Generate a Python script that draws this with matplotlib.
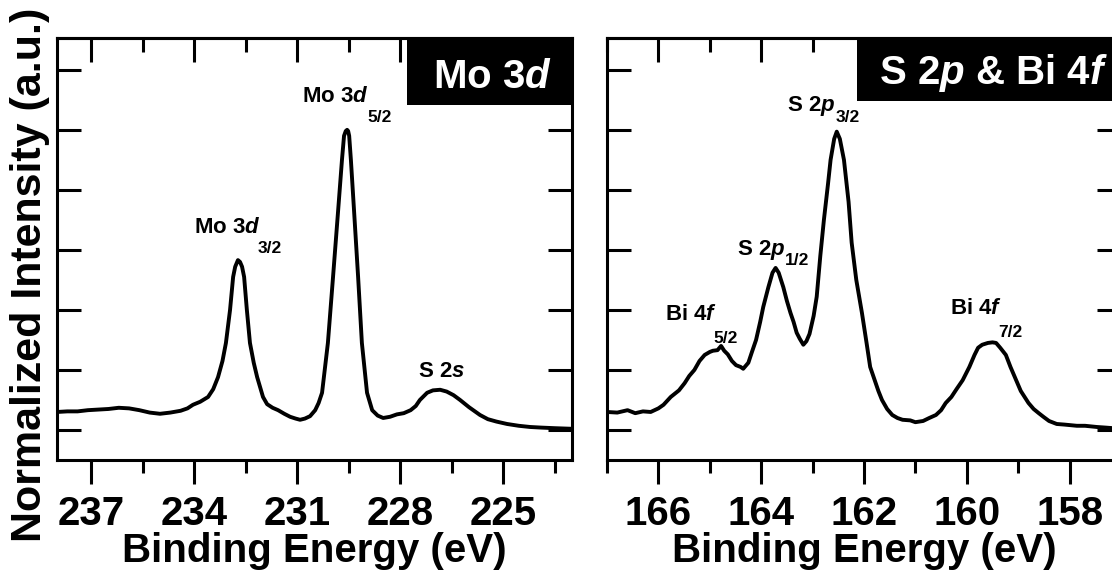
import matplotlib
matplotlib.use('Agg')
import matplotlib.pyplot as plt
from matplotlib.patches import Rectangle
from matplotlib.ticker import MultipleLocator

plt.rcParams['font.family'] = ['Liberation Sans', 'DejaVu Sans']
plt.rcParams['font.weight'] = 'bold'
plt.rcParams['mathtext.fontset'] = 'custom'
plt.rcParams['mathtext.rm'] = 'Liberation Sans:bold'
plt.rcParams['mathtext.it'] = 'Liberation Sans:bold:italic'
plt.rcParams['mathtext.bf'] = 'Liberation Sans:bold'

# Mo 3d region (binding energy in eV, normalized intensity)
mo_energy = [238.0, 237.7, 237.4, 237.1, 236.8, 236.5, 236.2, 235.9, 235.6, 235.3,
             235.0, 234.7, 234.4, 234.2, 234.04, 233.83, 233.6, 233.45, 233.31, 233.18,
             233.08, 232.96, 232.87, 232.81, 232.73, 232.67, 232.61, 232.55, 232.47, 232.38,
             232.27, 232.17, 232.0, 231.88, 231.72, 231.56, 231.38, 231.21, 231.05, 230.92,
             230.78, 230.63, 230.48, 230.38, 230.28, 230.11, 229.96, 229.81, 229.70, 229.64,
             229.59, 229.55, 229.52, 229.49, 229.44, 229.35, 229.23, 229.12, 228.97, 228.82,
             228.66, 228.50, 228.3, 228.1, 227.9, 227.7, 227.55, 227.43, 227.22, 227.05,
             226.84, 226.65, 226.45, 226.26, 226.0, 225.68, 225.45, 225.2, 224.89, 224.55,
             224.22, 223.9, 223.5, 223.0]
mo_intensity = [0.30, 0.31, 0.31, 0.33, 0.34, 0.35, 0.37, 0.36, 0.33, 0.29,
                0.27, 0.29, 0.32, 0.36, 0.42, 0.47, 0.55, 0.68, 0.88, 1.15,
                1.45, 2.00, 2.55, 2.72, 2.83, 2.80, 2.72, 2.55, 2.00, 1.45,
                1.12, 0.88, 0.55, 0.43, 0.37, 0.33, 0.27, 0.22, 0.19, 0.17,
                0.19, 0.23, 0.33, 0.45, 0.62, 1.45, 2.55, 3.67, 4.50, 4.90,
                4.98, 5.00, 4.98, 4.90, 4.50, 3.67, 2.55, 1.45, 0.62, 0.33,
                0.24, 0.20, 0.22, 0.26, 0.28, 0.33, 0.40, 0.50, 0.62, 0.66,
                0.67, 0.64, 0.58, 0.50, 0.38, 0.25, 0.18, 0.14, 0.10, 0.07,
                0.05, 0.04, 0.03, 0.02]

# S 2p & Bi 4f region
s_energy = [167.0, 166.8, 166.6, 166.45, 166.3, 166.15, 166.0, 165.9, 165.76, 165.6,
            165.49, 165.4, 165.3, 165.2, 165.1, 165.0, 164.94, 164.85, 164.78, 164.72,
            164.65, 164.57, 164.49, 164.4, 164.35, 164.25, 164.18, 164.1, 164.02, 163.96,
            163.86, 163.78, 163.72, 163.66, 163.57, 163.5, 163.43, 163.37, 163.31, 163.25,
            163.18, 163.12, 163.06, 162.98, 162.92, 162.85, 162.78, 162.7, 162.65, 162.58,
            162.53, 162.47, 162.39, 162.3, 162.24, 162.15, 162.04, 161.95, 161.88, 161.8,
            161.72, 161.65, 161.55, 161.45, 161.35, 161.25, 161.1, 161.0, 160.85, 160.73,
            160.6, 160.5, 160.41, 160.3, 160.2, 160.08, 159.95, 159.85, 159.78, 159.7,
            159.59, 159.5, 159.43, 159.35, 159.24, 159.15, 159.04, 158.95, 158.8, 158.7,
            158.6, 158.51, 158.4, 158.25, 158.1, 157.86, 157.7, 157.47, 157.3, 157.0]
s_intensity = [0.30, 0.29, 0.33, 0.28, 0.31, 0.30, 0.36, 0.42, 0.55, 0.66,
               0.78, 0.90, 1.00, 1.15, 1.25, 1.30, 1.32, 1.33, 1.40, 1.32,
               1.26, 1.15, 1.08, 1.05, 1.02, 1.12, 1.30, 1.50, 1.80, 2.05,
               2.38, 2.62, 2.70, 2.62, 2.38, 2.15, 1.95, 1.80, 1.62, 1.52,
               1.42, 1.48, 1.60, 1.90, 2.22, 2.90, 3.50, 4.10, 4.50, 4.85,
               4.97, 4.85, 4.50, 3.80, 3.12, 2.50, 1.95, 1.45, 1.05, 0.85,
               0.65, 0.50, 0.35, 0.25, 0.20, 0.17, 0.16, 0.13, 0.15, 0.20,
               0.25, 0.33, 0.45, 0.55, 0.68, 0.83, 1.05, 1.25, 1.37, 1.42,
               1.45, 1.46, 1.45, 1.37, 1.25, 1.05, 0.83, 0.65, 0.45, 0.35,
               0.28, 0.22, 0.15, 0.10, 0.09, 0.07, 0.07, 0.05, 0.04, 0.02]

fig = plt.figure(figsize=(11.12, 5.70), dpi=100)
ax1 = fig.add_axes([0.05126, 0.19298, 0.46313, 0.74035])
ax2 = fig.add_axes([0.54586, 0.19298, 0.46223, 0.74035])


def style_axis(ax, xlim, major, minor):
    ax.set_xlim(*xlim)
    ax.set_ylim(-0.5, 6.53)
    ax.xaxis.set_major_locator(MultipleLocator(major))
    ax.xaxis.set_minor_locator(MultipleLocator(minor))
    ax.yaxis.set_major_locator(MultipleLocator(1))
    for sp in ax.spines.values():
        sp.set_linewidth(2.2)
    ax.tick_params(axis='x', which='major', direction='out', length=17, width=2.2,
                   labelsize=29, pad=8)
    ax.tick_params(axis='x', which='minor', direction='out', length=9.5, width=2.2)
    ax.tick_params(axis='y', which='major', direction='in', length=17, width=2.2,
                   left=True, right=True, labelleft=False)
    for lab in ax.get_xticklabels():
        lab.set_fontweight('bold')
    # inward ticks along the top
    top = ax.secondary_xaxis('top')
    top.xaxis.set_major_locator(MultipleLocator(major))
    top.xaxis.set_minor_locator(MultipleLocator(minor))
    top.tick_params(axis='x', which='major', direction='in', length=17, width=2.2,
                    labeltop=False)
    top.tick_params(axis='x', which='minor', direction='in', length=10, width=2.2)
    top.spines['top'].set_linewidth(2.2)
    ax.text(0.5, -0.2417, 'Binding Energy (eV)', transform=ax.transAxes,
            ha='center', va='baseline', fontsize=29, fontweight='bold')


ax1.plot(mo_energy, mo_intensity, color='black', linewidth=2.8)
style_axis(ax1, (238, 223), 3, 1.5)
ax2.plot(s_energy, s_intensity, color='black', linewidth=2.8)
style_axis(ax2, (167, 157), 2, 1)

# title boxes
ax1.add_patch(Rectangle((0.6796, 0.8412), 0.3204, 0.1588, transform=ax1.transAxes,
                        facecolor='black', edgecolor='none', zorder=10, clip_on=False))
ax1.text(0.730, 0.8815, 'Mo 3$d$', transform=ax1.transAxes, color='white',
         fontsize=29, fontweight='bold', ha='left', va='baseline', zorder=11)
ax2.add_patch(Rectangle((0.486, 0.851), 0.514, 0.149, transform=ax2.transAxes,
                        facecolor='black', edgecolor='none', zorder=10, clip_on=False))
ax2.text(0.529, 0.891, 'S 2$p$ & Bi 4$f$', transform=ax2.transAxes, color='white',
         fontsize=29, fontweight='bold', ha='left', va='baseline', zorder=11)

# peak labels
lab = dict(fontsize=16, fontweight='bold', ha='left', va='center')
sub = dict(fontsize=12.5, fontweight='bold', ha='left', va='center')
ax1.text(234.01, 3.38, 'Mo 3$d$', **lab)
ax1.text(232.15, 3.03, '3/2', **sub)
ax1.text(230.86, 5.55, 'Mo 3$d$', **lab)
ax1.text(228.97, 5.20, '5/2', **sub)
ax1.text(227.48, 0.97, 'S 2$s$', **lab)

ax2.text(163.50, 5.40, 'S 2$p$', **lab)
ax2.text(162.56, 5.20, '3/2', **sub)
ax2.text(164.47, 3.00, 'S 2$p$', **lab)
ax2.text(163.54, 2.83, '1/2', **sub)
ax2.text(165.87, 1.92, 'Bi 4$f$', **lab)
ax2.text(164.92, 1.53, '5/2', **sub)
ax2.text(160.33, 2.02, 'Bi 4$f$', **lab)
ax2.text(159.39, 1.63, '7/2', **sub)

fig.text(0.027, 0.5175, 'Normalized Intensity (a.u.)', rotation=90, ha='center',
         va='center', fontsize=31, fontweight='bold')

fig.savefig('out.png', dpi=100)
